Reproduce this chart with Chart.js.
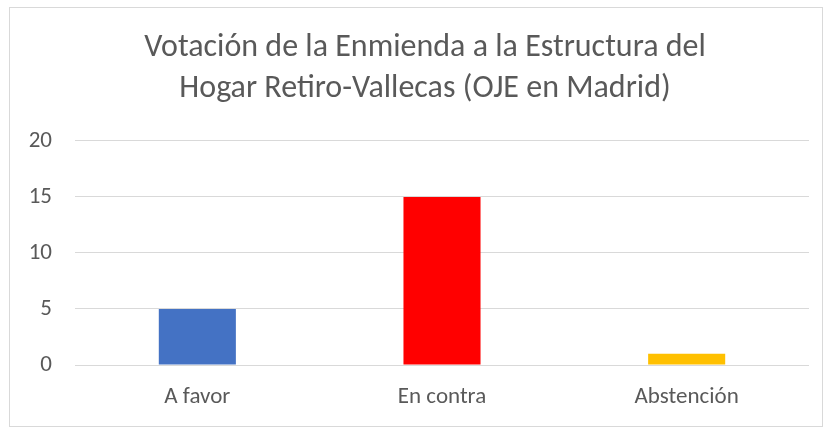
<!DOCTYPE html>
<html>
<head>
<meta charset="utf-8">
<script src="https://cdn.jsdelivr.net/npm/chart.js@4"></script>
<style>
  body { margin: 0; background: #fff; }
  #wrap { position: relative; width: 827px; height: 428px; }
  #frame { position: absolute; left: 9px; top: 7px; width: 812px; height: 418px; border: 1px solid #d9d9d9; }
  canvas { position: absolute; left: 0; top: 0; }
</style>
</head>
<body>
<div id="wrap">
  <div id="frame"></div>
  <canvas id="myChart" width="827" height="428"></canvas>
</div>
<script>
// Datos del grafico
const categories = ['A favor', 'En contra', 'Abstención']
const votes = [5, 15, 1]
const barColors = ['#4472C4', '#FF0000', '#FFC000']
const yTicks = [0, 5, 10, 15, 20]

const fontFamily = 'Carlito, Lato, "Open Sans", sans-serif'
const grey = '#595959'

const data = {
  labels: categories,
  datasets: [{
    label: 'Votos',
    data: votes,
    backgroundColor: barColors,
    barPercentage: 0.63,
    categoryPercentage: 0.5
  }]
}

// the title is centred on the frame, not on the canvas
const titleShift = {
  id: 'titleShift',
  afterLayout(chart) {
    if (chart.titleBlock) {
      chart.titleBlock.left = 41
    }
  }
}

const config = {
  type: 'bar',
  data: data,
  plugins: [titleShift],
  options: {
    responsive: false,
    animation: false,
    layout: { padding: { left: 0, right: 18, top: 0, bottom: 0 } },
    plugins: {
      legend: { display: false },
      tooltip: { enabled: false },
      title: {
        display: true,
        text: ['Votación de la Enmienda a la Estructura del', 'Hogar Retiro-Vallecas (OJE en Madrid)'],
        color: grey,
        font: { family: fontFamily, size: 32, weight: 'normal', lineHeight: 1.28 },
        padding: { top: 28, bottom: 31 }
      }
    },
    scales: {
      x: {
        afterFit: (axis) => { axis.height = 63 },
        grid: { display: false, drawTicks: false },
        border: { display: false },
        ticks: { color: grey, font: { family: fontFamily, size: 23 }, padding: 18 }
      },
      y: {
        min: 0,
        max: 20,
        afterBuildTicks: (axis) => { axis.ticks = yTicks.map(v => ({ value: v })) },
        afterFit: (axis) => { axis.width = 75 },
        grid: { color: '#d9d9d9', lineWidth: 1, drawTicks: false },
        border: { display: false },
        ticks: { color: grey, font: { family: fontFamily, size: 23 }, padding: 23 }
      }
    }
  }
}

const myChart = new Chart(document.getElementById('myChart'), config)
</script>
</body>
</html>
